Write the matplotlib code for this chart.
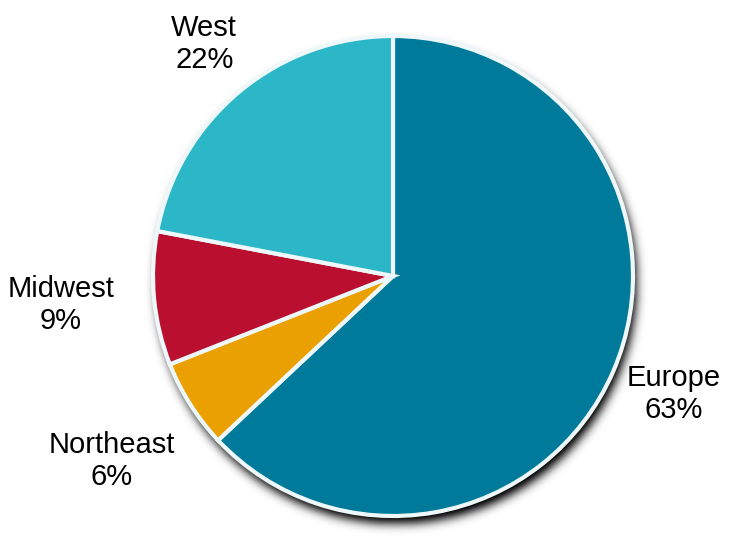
import numpy as np
import matplotlib
matplotlib.use('Agg')
from matplotlib import pyplot as plt

regions = ['Europe', 'Northeast', 'Midwest', 'West']
shares = [63, 6, 9, 22]
colors = ['#007a9a', '#eaa000', '#ba0f2e', '#2cb7c9']
# label centres in figure fractions
label_pos = [(0.921, 0.272), (0.153, 0.148), (0.083, 0.437), (0.279, 0.919)]

W, H = 732, 541
fig = plt.figure(figsize=(W / 100, H / 100), dpi=100)
ax = fig.add_axes([0, 0, 1, 1])
ax.set_xlim(0, W)
ax.set_ylim(0, H)
ax.set_aspect('equal')
ax.axis('off')

cx, cy, r = 393, H - 276, 240

# soft drop shadow, blurred disk offset down and a bit right
yy, xx = np.mgrid[0:H, 0:W]
sx, sy = cx + 3, cy - 8
mask = ((xx - sx) ** 2 + (yy - sy) ** 2 <= r ** 2).astype(float)
sig = 5.0
k = np.arange(-18, 19)
g = np.exp(-k ** 2 / (2 * sig ** 2))
g /= g.sum()
mask = np.apply_along_axis(lambda v: np.convolve(v, g, mode='same'), 0, mask)
mask = np.apply_along_axis(lambda v: np.convolve(v, g, mode='same'), 1, mask)
shadow = np.zeros((H, W, 4))
shadow[..., 3] = np.clip(mask * 1.1, 0, 1)
ax.imshow(shadow, extent=(0, W, 0, H), origin='lower', zorder=1)

ax.pie(shares, colors=colors, startangle=90, counterclock=False,
       center=(cx, cy), radius=r, frame=True,
       wedgeprops=dict(edgecolor='#eef7f9', linewidth=3, zorder=2))
ax.set_xlim(0, W)
ax.set_ylim(0, H)
ax.axis('off')

for name, pct, (lx, ly) in zip(regions, shares, label_pos):
    fig.text(lx, ly, f'{name}\n{pct}%', ha='center', va='center',
             fontsize=21, family='Liberation Sans', linespacing=1.18)

fig.savefig('out.png', dpi=100)
